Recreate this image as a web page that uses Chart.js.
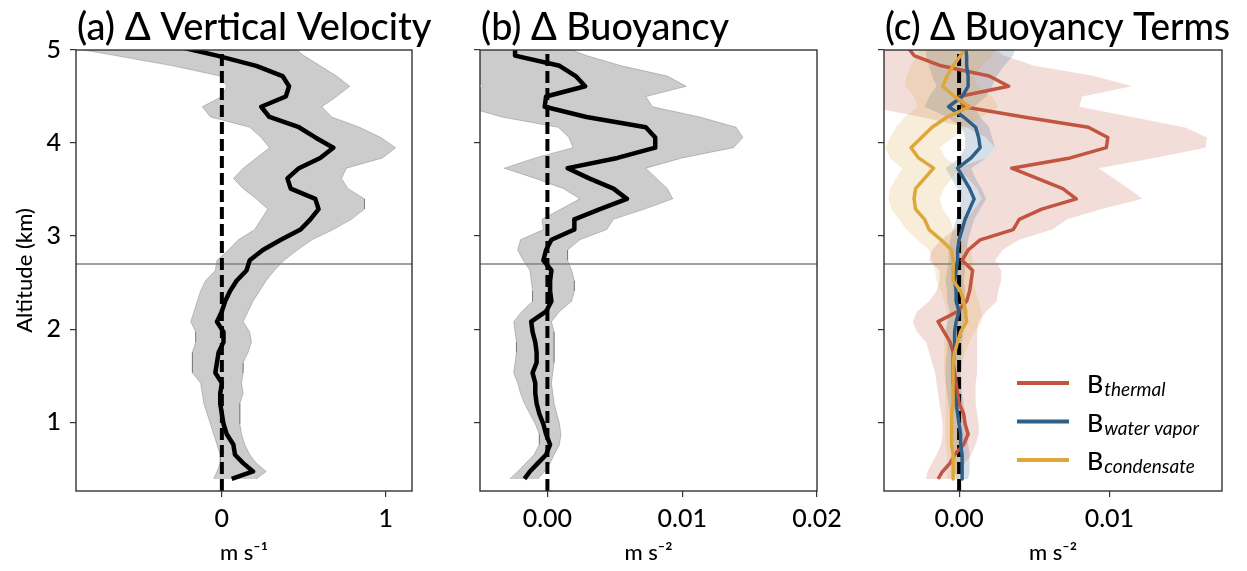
<!DOCTYPE html>
<html>
<head>
<meta charset="utf-8">
<script src="https://cdn.jsdelivr.net/npm/chart.js@4.4.1/dist/chart.umd.min.js"></script>
<style>
  html, body { margin: 0; padding: 0; background: #fff; }
  #wrap { position: relative; width: 1247px; height: 571px; overflow: hidden; }
  #wrap canvas { position: absolute; top: 0; }
</style>
</head>
<body>
<div id="wrap">
  <canvas id="panelA" width="470" height="571" style="left:0px"></canvas>
  <canvas id="panelB" width="440" height="571" style="left:420px"></canvas>
  <canvas id="panelC" width="407" height="571" style="left:840px"></canvas>
</div>
<script>
// Profil selisih (perlakuan - kontrol) terhadap ketinggian, tiga panel.
// Semua nilai; urutan dari atas ke bawah.

const LEVELS_KM = [5.05, 4.94, 4.83, 4.72, 4.61, 4.50, 4.39, 4.28, 4.17, 4.06,
  3.95, 3.84, 3.73, 3.62, 3.51, 3.40, 3.29, 3.18, 3.07, 2.96,
  2.85, 2.74, 2.63, 2.52, 2.41, 2.30, 2.19, 2.08, 1.97, 1.86,
  1.75, 1.64, 1.53, 1.42, 1.31, 1.20, 1.09, 0.98, 0.87, 0.76,
  0.65, 0.56, 0.47, 0.39];

// (a) vertical velocity, m/s
const DW_MEAN = [-0.30, -0.03, 0.21, 0.37, 0.41, 0.39, 0.24, 0.29, 0.47, 0.57,
  0.68, 0.60, 0.47, 0.40, 0.42, 0.57, 0.59, 0.54, 0.48, 0.36,
  0.25, 0.17, 0.15, 0.09, 0.05, 0.02, 0.00, -0.03, 0.01, 0.01,
  -0.02, -0.03, -0.04, 0.00, -0.01, -0.01, 0.00, 0.01, 0.03, 0.07,
  0.08, 0.13, 0.19, 0.06];
const DW_LOW = [-1.00, -0.65, -0.30, -0.01, 0.03, 0.00, -0.12, -0.07, 0.17, 0.24,
  0.29, 0.21, 0.13, 0.07, 0.13, 0.21, 0.28, 0.24, 0.20, 0.10,
  0.04, -0.03, -0.04, -0.10, -0.13, -0.15, -0.17, -0.19, -0.16, -0.16,
  -0.18, -0.18, -0.18, -0.13, -0.12, -0.11, -0.09, -0.07, -0.05, -0.03,
  -0.01, -0.01, -0.03, -0.05];
const DW_HIGH = [0.42, 0.50, 0.60, 0.70, 0.78, 0.70, 0.61, 0.67, 0.84, 0.97,
  1.06, 0.98, 0.76, 0.73, 0.77, 0.87, 0.87, 0.79, 0.68, 0.55,
  0.46, 0.38, 0.32, 0.27, 0.23, 0.19, 0.16, 0.13, 0.17, 0.18,
  0.16, 0.13, 0.13, 0.12, 0.13, 0.11, 0.11, 0.11, 0.12, 0.14,
  0.17, 0.21, 0.27, 0.21];

// (b) buoyancy, m/s2
const DB_MEAN = [-0.0024, -0.0024, 0.0009, 0.0021, 0.0028, -0.0001, -0.0002, 0.0029, 0.0073, 0.0080,
  0.0080, 0.0052, 0.0015, 0.0031, 0.0049, 0.0059, 0.0039, 0.0020, 0.0020, 0.0003,
  -0.0001, -0.0003, 0.0003, 0.0002, 0.0002, 0.0003, -0.0001, -0.0012, -0.0011, -0.0009,
  -0.0008, -0.0008, -0.0011, -0.0009, -0.0009, -0.0008, -0.0006, -0.0003, -0.0001, 0.0002,
  -0.0001, -0.0007, -0.0013, -0.0017];
const DB_LOW = [-0.0060, -0.0060, -0.0058, -0.0052, -0.0048, -0.0055, -0.0060, -0.0034, 0.0008, 0.0016,
  0.0019, -0.0009, -0.0032, -0.0009, 0.0012, 0.0024, 0.0010, -0.0004, -0.0003, -0.0020,
  -0.0022, -0.0018, -0.0013, -0.0012, -0.0011, -0.0011, -0.0019, -0.0025, -0.0024, -0.0023,
  -0.0023, -0.0024, -0.0025, -0.0022, -0.0020, -0.0017, -0.0013, -0.0009, -0.0006, -0.0006,
  -0.0010, -0.0016, -0.0022, -0.0028];
const DB_HIGH = [0.0009, 0.0029, 0.0055, 0.0089, 0.0103, 0.0073, 0.0078, 0.0113, 0.0140, 0.0145,
  0.0138, 0.0100, 0.0073, 0.0081, 0.0089, 0.0093, 0.0072, 0.0049, 0.0044, 0.0024,
  0.0015, 0.0015, 0.0018, 0.0020, 0.0020, 0.0018, 0.0009, 0.0003, 0.0005, 0.0005,
  0.0005, 0.0005, 0.0004, 0.0003, 0.0004, 0.0005, 0.0007, 0.0009, 0.0010, 0.0009,
  0.0005, 0.0002, -0.0002, -0.0007];

// (c) buoyancy terms, m/s2
const B_THERMAL = [-0.0035, -0.0030, -0.0012, 0.0020, 0.0033, 0.0000, 0.0003, 0.0043, 0.0086, 0.0099,
  0.0098, 0.0074, 0.0035, 0.0052, 0.0069, 0.0078, 0.0055, 0.0040, 0.0036, 0.0014,
  0.0006, 0.0002, 0.0009, 0.0008, 0.0007, 0.0005, -0.0001, -0.0014, -0.0010, -0.0006,
  -0.0004, -0.0004, -0.0003, -0.0002, -0.0001, 0.0000, 0.0003, 0.0004, 0.0006, 0.0003,
  -0.0003, -0.0006, -0.0011, -0.0014];
const B_THERMAL_LOW = [-0.0080, -0.0080, -0.0080, -0.0075, -0.0070, -0.0070, -0.0060, -0.0025, 0.0005, 0.0018,
  0.0024, 0.0018, -0.0002, 0.0006, 0.0012, 0.0015, 0.0010, 0.0005, -0.0003, -0.0012,
  -0.0018, -0.0020, -0.0013, -0.0013, -0.0015, -0.0020, -0.0028, -0.0031, -0.0028, -0.0022,
  -0.0020, -0.0018, -0.0016, -0.0015, -0.0014, -0.0013, -0.0012, -0.0011, -0.0011, -0.0012,
  -0.0015, -0.0018, -0.0021, -0.0022];
const B_THERMAL_HIGH = [0.0020, 0.0030, 0.0050, 0.0090, 0.0115, 0.0082, 0.0080, 0.0115, 0.0150, 0.0165,
  0.0164, 0.0130, 0.0093, 0.0103, 0.0113, 0.0122, 0.0095, 0.0072, 0.0062, 0.0040,
  0.0029, 0.0024, 0.0028, 0.0028, 0.0026, 0.0025, 0.0018, 0.0013, 0.0012, 0.0012,
  0.0012, 0.0012, 0.0012, 0.0011, 0.0011, 0.0011, 0.0012, 0.0013, 0.0013, 0.0011,
  0.0008, 0.0004, 0.0000, -0.0006];

const B_VAPOR = [0.0004, 0.0005, 0.0005, 0.0006, 0.0006, 0.0002, -0.0007, 0.0003, 0.0011, 0.0013,
  0.0014, 0.0008, -0.0001, 0.0003, 0.0007, 0.0010, 0.0007, 0.0004, 0.0002, 0.0000,
  -0.0001, -0.0001, -0.0002, -0.0003, -0.0002, -0.0002, 0.0000, -0.0002, -0.0003, -0.0003,
  -0.0003, -0.0004, -0.0004, -0.0004, -0.0003, -0.0002, -0.0001, 0.0000, 0.0001, 0.0001,
  0.0002, 0.0002, 0.0002, 0.0002];
const B_VAPOR_LOW = [-0.0022, -0.0022, -0.0020, -0.0018, -0.0015, -0.0020, -0.0023, -0.0008, 0.0002, 0.0004,
  0.0004, 0.0000, -0.0009, -0.0005, -0.0001, 0.0002, 0.0000, -0.0002, -0.0004, -0.0006,
  -0.0007, -0.0007, -0.0008, -0.0009, -0.0008, -0.0008, -0.0006, -0.0008, -0.0009, -0.0008,
  -0.0008, -0.0009, -0.0009, -0.0009, -0.0008, -0.0007, -0.0006, -0.0005, -0.0004, -0.0004,
  -0.0003, -0.0003, -0.0003, -0.0002];
const B_VAPOR_HIGH = [0.0038, 0.0036, 0.0030, 0.0025, 0.0022, 0.0018, 0.0010, 0.0014, 0.0020, 0.0022,
  0.0024, 0.0018, 0.0008, 0.0011, 0.0015, 0.0018, 0.0014, 0.0010, 0.0008, 0.0006,
  0.0005, 0.0004, 0.0004, 0.0003, 0.0004, 0.0004, 0.0006, 0.0004, 0.0003, 0.0002,
  0.0002, 0.0001, 0.0001, 0.0001, 0.0002, 0.0003, 0.0004, 0.0005, 0.0006, 0.0006,
  0.0007, 0.0007, 0.0007, 0.0006];

const B_COND = [0.0005, 0.0001, -0.0004, -0.0008, -0.0011, -0.0003, 0.0007, -0.0008, -0.0018, -0.0025,
  -0.0032, -0.0027, -0.0017, -0.0023, -0.0029, -0.0030, -0.0029, -0.0023, -0.0020, -0.0012,
  -0.0005, -0.0004, -0.0004, -0.0004, 0.0001, 0.0003, 0.0004, 0.0005, 0.0001, -0.0001,
  -0.0003, -0.0004, -0.0004, -0.0004, -0.0004, -0.0004, -0.0005, -0.0005, -0.0005, -0.0005,
  -0.0004, -0.0004, -0.0004, -0.0004];
const B_COND_LOW = [-0.0025, -0.0028, -0.0032, -0.0035, -0.0036, -0.0030, -0.0028, -0.0036, -0.0042, -0.0046,
  -0.0049, -0.0046, -0.0038, -0.0042, -0.0046, -0.0047, -0.0045, -0.0040, -0.0035, -0.0028,
  -0.0020, -0.0018, -0.0016, -0.0015, -0.0012, -0.0010, -0.0008, -0.0007, -0.0009, -0.0010,
  -0.0010, -0.0010, -0.0010, -0.0009, -0.0009, -0.0009, -0.0009, -0.0009, -0.0009, -0.0009,
  -0.0008, -0.0008, -0.0008, -0.0008];
const B_COND_HIGH = [0.0025, 0.0022, 0.0015, 0.0010, 0.0012, 0.0022, 0.0026, 0.0015, 0.0005, -0.0004,
  -0.0013, -0.0009, 0.0000, -0.0005, -0.0010, -0.0013, -0.0011, -0.0006, -0.0004, 0.0002,
  0.0008, 0.0009, 0.0009, 0.0009, 0.0011, 0.0013, 0.0015, 0.0015, 0.0010, 0.0007,
  0.0004, 0.0002, 0.0001, 0.0001, 0.0001, 0.0001, 0.0000, 0.0000, 0.0000, 0.0000,
  0.0000, 0.0000, 0.0000, 0.0000];

const REF_LEVEL_KM = 2.7;
const Y_TICKS = [1, 2, 3, 4, 5];
const X_TICKS_A = [0, 1];
const X_TICKS_B = [0, 0.01, 0.02];
const X_TICKS_C = [0, 0.01];

const FONT = "Lato, 'Noto Sans', sans-serif";
const Y_MIN = 0.26, Y_MAX = 5;
const C_THERMAL = "#c1553f", C_VAPOR = "#2f5e86", C_COND = "#dea73c";

Chart.defaults.font.family = FONT;
Chart.defaults.color = "#000";

function profile(values, extra) {
  return Object.assign({
    data: values.map((v, i) => ({ x: v, y: LEVELS_KM[i] })),
    pointRadius: 0, borderWidth: 0, fill: false, tension: 0, borderJoinStyle: "round"
  }, extra);
}

function zeroLine(width) {
  return { data: [{ x: 0, y: Y_MIN }, { x: 0, y: Y_MAX }], borderColor: "#000", borderWidth: width,
           borderDash: [12, 5], pointRadius: 0, fill: false };
}

function refLine(xMin, xMax) {
  return { data: [{ x: xMin, y: REF_LEVEL_KM }, { x: xMax, y: REF_LEVEL_KM }], borderColor: "#808080",
           borderWidth: 1.5, pointRadius: 0, fill: false };
}

// judul panel rata kiri dengan area plot, plus bingkai sumbu di keempat sisi
const frameAndTitle = {
  id: "frameAndTitle",
  afterDraw(chart, args, opts) {
    const { ctx, chartArea: a } = chart;
    ctx.save();
    ctx.strokeStyle = "#333";
    ctx.lineWidth = 1.4;
    ctx.strokeRect(a.left, a.top, a.right - a.left, a.bottom - a.top);
    ctx.fillStyle = "#000";
    ctx.font = "500 38px " + FONT;
    ctx.textBaseline = "alphabetic";
    ctx.fillText(opts.text, a.left + 1, 40, opts.maxWidth);
    ctx.restore();
  }
};

const termLegend = {
  id: "termLegend",
  afterDraw(chart, args, opts) {
    if (!opts.items) return;
    const { ctx } = chart;
    ctx.save();
    opts.items.forEach((it, i) => {
      const y = opts.top + i * opts.gap;
      ctx.strokeStyle = it.color;
      ctx.lineWidth = 4;
      ctx.beginPath();
      ctx.moveTo(opts.left, y);
      ctx.lineTo(opts.left + 52, y);
      ctx.stroke();
      ctx.fillStyle = "#000";
      ctx.font = "500 25px " + FONT;
      ctx.fillText("B", opts.left + 70, y + 10);
      const bw = ctx.measureText("B").width;
      ctx.font = "italic 19px " + FONT;
      ctx.fillText(it.sub, opts.left + 71 + bw, y + 13);
    });
    ctx.restore();
  }
};

function makePanel(id, cfg) {
  const tickFont = { family: FONT, size: 25, weight: "500" };
  return new Chart(document.getElementById(id), {
    type: "line",
    data: { datasets: cfg.datasets },
    plugins: [frameAndTitle, termLegend],
    options: {
      indexAxis: "y",
      responsive: false,
      animation: false,
      devicePixelRatio: 1,
      layout: { padding: { left: 0, top: 50, right: cfg.padRight, bottom: 0 } },
      plugins: {
        legend: { display: false },
        tooltip: { enabled: false },
        frameAndTitle: { text: cfg.title, maxWidth: cfg.titleWidth },
        termLegend: cfg.legend || {}
      },
      scales: {
        x: {
          type: "linear", position: "bottom", min: cfg.xMin, max: cfg.xMax,
          afterBuildTicks: s => { s.ticks = cfg.xTicks.map(v => ({ value: v })); },
          afterFit: s => { s.height = 80; },
          ticks: { font: tickFont, padding: 7, maxRotation: 0, autoSkip: false,
                   callback: v => v.toFixed(cfg.decimals) },
          grid: { drawOnChartArea: false, tickLength: 6, color: "#333", lineWidth: 1.2 },
          border: { display: false },
          title: { display: true, text: cfg.xTitle, font: { family: FONT, size: 22, weight: "500" },
                   padding: { top: 0, bottom: 5 } }
        },
        y: {
          type: "linear", position: "left", min: Y_MIN, max: Y_MAX,
          afterBuildTicks: s => { s.ticks = Y_TICKS.map(v => ({ value: v })); },
          afterFit: s => { s.width = cfg.yWidth; },
          ticks: { display: cfg.showY, font: tickFont, padding: 9 },
          grid: { drawOnChartArea: false, tickLength: 6, color: "#333", lineWidth: 1.2 },
          border: { display: false },
          title: { display: cfg.showY, text: "Altitude (km)", font: { family: FONT, size: 22, weight: "500" },
                   padding: { top: 12, bottom: 0 } }
        }
      }
    }
  });
}

makePanel("panelA", {
  title: "(a) \u0394 Vertical Velocity", titleWidth: 356,
  xMin: -0.89, xMax: 1.16, xTicks: X_TICKS_A, decimals: 0, xTitle: "m s\u207B\u00B9",
  yWidth: 76, padRight: 58, showY: true,
  datasets: [
    profile(DW_LOW, { borderColor: "rgba(0,0,0,0.2)", borderWidth: 1, order: 5 }),
    profile(DW_HIGH, { borderColor: "rgba(0,0,0,0.2)", borderWidth: 1, fill: "-1",
                       backgroundColor: "rgba(0,0,0,0.2)", order: 4 }),
    Object.assign(refLine(-0.89, 1.16), { order: 3 }),
    Object.assign(zeroLine(4), { order: 2 }),
    profile(DW_MEAN, { borderColor: "#000", borderWidth: 4.5, order: 1 })
  ]
});

makePanel("panelB", {
  title: "(b) \u0394 Buoyancy", titleWidth: 248,
  xMin: -0.005, xMax: 0.02, xTicks: X_TICKS_B, decimals: 2, xTitle: "m s\u207B\u00B2",
  yWidth: 60, padRight: 43, showY: false,
  datasets: [
    profile(DB_LOW, { borderColor: "rgba(0,0,0,0.2)", borderWidth: 1, order: 5 }),
    profile(DB_HIGH, { borderColor: "rgba(0,0,0,0.2)", borderWidth: 1, fill: "-1",
                       backgroundColor: "rgba(0,0,0,0.2)", order: 4 }),
    Object.assign(refLine(-0.005, 0.02), { order: 3 }),
    Object.assign(zeroLine(4), { order: 2 }),
    profile(DB_MEAN, { borderColor: "#000", borderWidth: 4.5, order: 1 })
  ]
});

makePanel("panelC", {
  title: "(c) \u0394 Buoyancy Terms", titleWidth: 345,
  xMin: -0.005, xMax: 0.0175, xTicks: X_TICKS_C, decimals: 2, xTitle: "m s\u207B\u00B2",
  yWidth: 44, padRight: 25, showY: false,
  legend: { left: 177, top: 383, gap: 38.5, items: [
    { color: C_THERMAL, sub: "thermal" },
    { color: C_VAPOR, sub: "water vapor" },
    { color: C_COND, sub: "condensate" }
  ] },
  datasets: [
    profile(B_THERMAL_LOW, { order: 12 }),
    profile(B_THERMAL_HIGH, { fill: "-1", backgroundColor: "rgba(193,85,63,0.2)", order: 11 }),
    profile(B_VAPOR_LOW, { order: 10 }),
    profile(B_VAPOR_HIGH, { fill: "-1", backgroundColor: "rgba(47,94,134,0.2)", order: 9 }),
    profile(B_COND_LOW, { order: 8 }),
    profile(B_COND_HIGH, { fill: "-1", backgroundColor: "rgba(222,167,60,0.2)", order: 7 }),
    Object.assign(refLine(-0.005, 0.0175), { order: 6 }),
    Object.assign(zeroLine(4), { order: 5 }),
    profile(B_THERMAL, { borderColor: C_THERMAL, borderWidth: 3.5, order: 3 }),
    profile(B_VAPOR, { borderColor: C_VAPOR, borderWidth: 3.5, order: 2 }),
    profile(B_COND, { borderColor: C_COND, borderWidth: 3.5, order: 1 })
  ]
});
</script>
</body>
</html>
